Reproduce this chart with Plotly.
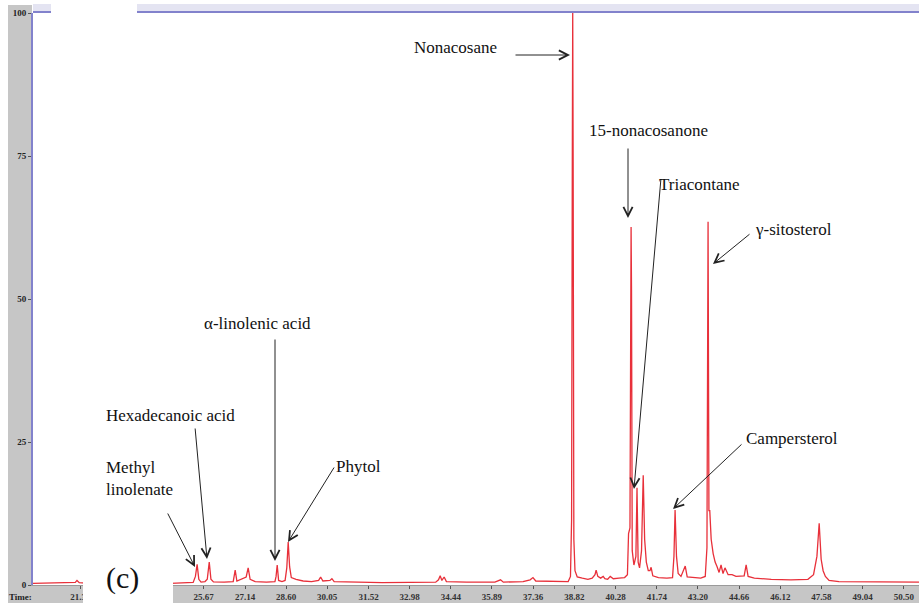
import plotly.graph_objects as go

# ---------------- data ----------------
times = [19.62, 20.00, 20.50, 21.00, 21.12, 21.18, 21.26, 21.60, 22.20, 23.00,
         23.80, 24.50, 25.00, 25.30, 25.38, 25.44, 25.50, 25.58, 25.72, 25.80,
         25.87, 25.93, 26.02, 26.40, 26.72, 26.79, 26.85, 26.95, 27.05, 27.18,
         27.25, 27.32, 27.50, 27.90, 28.20, 28.24, 28.28, 28.33, 28.45, 28.56,
         28.62, 28.67, 28.72, 28.78, 28.95, 29.20, 29.50, 29.75, 29.82, 29.90,
         30.15, 30.22, 30.30, 31.00, 32.00, 33.00, 33.90, 34.00, 34.06, 34.12,
         34.20, 34.28, 35.00, 36.00, 36.20, 36.30, 37.00, 37.25, 37.35, 37.45,
         38.00, 38.60, 38.68, 38.72, 38.745, 38.76, 38.775, 38.80, 38.84, 38.92,
         39.10, 39.30, 39.45, 39.55, 39.59, 39.65, 39.75, 39.84, 39.90, 40.00,
         40.09, 40.20, 40.40, 40.60, 40.70, 40.74, 40.79, 40.815, 40.83, 40.845,
         40.87, 40.93, 41.00, 41.04, 41.08, 41.13, 41.20, 41.26, 41.31, 41.37,
         41.44, 41.50, 41.54, 41.60, 41.80, 42.10, 42.30, 42.35, 42.39, 42.44,
         42.50, 42.60, 42.75, 42.82, 43.00, 43.30, 43.46, 43.52, 43.56, 43.59,
         43.62, 43.67, 43.74, 43.81, 43.88, 43.95, 44.02, 44.09, 44.16, 44.27,
         44.41, 44.55, 44.84, 44.91, 44.98, 45.20, 45.80, 46.50, 47.10, 47.30,
         47.42, 47.50, 47.57, 47.64, 47.72, 47.85, 48.20, 49.00, 50.00, 51.04]

intensity = [0.30, 0.35, 0.30, 0.40, 0.45, 0.80, 0.40, 0.30, 0.35, 0.30,
             0.35, 0.30, 0.40, 0.45, 1.50, 3.60, 1.00, 0.50, 0.60, 1.00,
             4.00, 1.00, 0.55, 0.50, 0.60, 2.60, 0.70, 0.90, 1.20, 1.40,
             3.00, 1.00, 0.60, 0.50, 0.60, 1.50, 3.50, 0.80, 0.60, 0.80,
             3.00, 7.50, 3.20, 1.30, 1.00, 0.70, 0.60, 0.80, 1.40, 0.70,
             0.80, 1.10, 0.60, 0.50, 0.40, 0.45, 0.50, 0.90, 1.60, 0.80,
             1.40, 0.60, 0.50, 0.50, 0.90, 0.50, 0.60, 0.90, 1.30, 0.70,
             0.60, 0.60, 1.50, 11.4, 74.0, 100.0, 74.0, 8.00, 2.50, 1.40,
             1.20, 1.00, 1.20, 1.80, 2.60, 1.50, 1.20, 1.50, 1.10, 1.00,
             1.50, 1.10, 1.20, 1.30, 1.80, 9.00, 10.0, 51.6, 62.6, 51.6,
             6.00, 3.50, 5.00, 17.0, 4.00, 3.00, 6.00, 19.2, 8.00, 4.00,
             2.50, 2.50, 3.10, 1.60, 1.30, 1.20, 1.30, 5.00, 13.1, 5.00,
             2.00, 1.50, 3.30, 1.40, 1.30, 1.20, 1.50, 6.50, 63.5, 13.0,
             13.0, 8.00, 5.50, 4.00, 3.20, 2.20, 3.50, 2.00, 3.00, 1.80,
             1.80, 1.50, 1.60, 3.50, 1.50, 1.20, 1.00, 0.90, 1.00, 1.80,
             5.00, 10.8, 4.50, 2.50, 1.50, 0.80, 0.60, 0.60, 0.50, 0.50]

# tick labels visible in the reference (22.76 / 24.21 are hidden by the white patch)
x_tick_vals = [21.30, 25.67, 27.14, 28.60, 30.05, 31.52, 32.98,
               34.44, 35.89, 37.36, 38.82, 40.28, 41.74, 43.20, 44.66, 46.12,
               47.58, 49.04, 50.50]
x_tick_text = ["21.30", "25.67", "27.14", "28.60", "30.05",
               "31.52", "32.98", "34.44", "35.89", "37.36", "38.82", "40.28",
               "41.74", "43.20", "44.66", "46.12", "47.58", "49.04", "50.50"]
y_tick_vals = [0, 25, 50, 75, 100]
y_tick_text = ["0", "25", "50", "75", "100"]

compound_labels = ["Nonacosane", "15-nonacosanone", "Triacontane", "γ-sitosterol",
                   "Campersterol", "Phytol", "α-linolenic acid",
                   "Hexadecanoic acid", "Methyl<br>linolenate"]

# ---------------- layout helpers (pixel -> paper) ----------------
W, H = 919, 606
L, R, T, B = 33, 919, 13, 585


def px(x):
    return (x - L) / (R - L)


def py(y):
    return (B - y) / (B - T)


# label centre (px), arrow tail (px), arrow head (px), text alignment
label_layout = [
    ((455, 47), (514, 55), (570, 55), "center"),
    ((648, 131), (628, 147), (628, 218), "center"),
    ((699, 184), (661, 178), (634, 489), "center"),
    ((793, 229), (751, 233), (713, 264), "center"),
    ((792, 438), (743, 443), (673, 509), "center"),
    ((358, 466), (335, 466), (288, 542), "center"),
    ((257, 323), (275, 338), (275, 561), "center"),
    ((170, 415), (195, 427), (207, 559), "center"),
    ((104, 478), (167, 512), (195, 567), "left"),
]

SERIF = "Liberation Serif, Times New Roman, serif"

fig = go.Figure()
fig.add_trace(go.Scatter(
    x=times, y=intensity, mode="lines",
    line=dict(color="#e8303a", width=1.3),
    hoverinfo="skip", showlegend=False,
))

shapes = [
    # left grey strip
    dict(type="rect", xref="paper", yref="paper", x0=px(8), x1=px(32),
         y0=py(603), y1=py(5), fillcolor="#c6c6c6", line=dict(width=0), layer="below"),
    # bottom grey band
    dict(type="rect", xref="paper", yref="paper", x0=px(8), x1=px(919),
         y0=py(603), y1=py(586), fillcolor="#c6c6c6", line=dict(width=0), layer="below"),
    # top lavender band
    dict(type="rect", xref="paper", yref="paper", x0=px(33), x1=px(919),
         y0=py(13), y1=py(4), fillcolor="#e4e4f2", line=dict(width=0), layer="below"),
    # top frame line
    dict(type="line", xref="paper", yref="paper", x0=px(33), x1=px(919),
         y0=py(12), y1=py(12), line=dict(color="#8282cc", width=2), layer="below"),
    # white patch at top-left
    dict(type="rect", xref="paper", yref="paper", x0=px(51), x1=px(137),
         y0=py(16), y1=py(0), fillcolor="white", line=dict(width=0), layer="above"),
    # white patch behind (c)
    dict(type="rect", xref="paper", yref="paper", x0=px(83), x1=px(173),
         y0=py(606), y1=py(548), fillcolor="white", line=dict(width=0), layer="above"),
]

annotations = []
for name, (tc, tail, head, align) in zip(compound_labels, label_layout):
    annotations.append(dict(
        xref="paper", yref="paper", x=px(tc[0]), y=py(tc[1]),
        text=name, showarrow=False, align=align,
        xanchor="left" if align == "left" else "center", yanchor="middle",
        font=dict(family=SERIF, size=17, color="#111"),
    ))
    annotations.append(dict(
        xref="paper", yref="paper", x=px(head[0]), y=py(head[1]),
        ax=tail[0] - head[0], ay=tail[1] - head[1],
        text="", showarrow=True, arrowhead=5, arrowsize=1.8,
        arrowwidth=1, arrowcolor="#222", standoff=0, startstandoff=0,
    ))

annotations.append(dict(
    xref="paper", yref="paper", x=px(122), y=py(578), text="(c)",
    showarrow=False, xanchor="center", yanchor="middle",
    font=dict(family=SERIF, size=30, color="#111"),
))
annotations.append(dict(
    xref="paper", yref="paper", x=px(20), y=py(597), text="Time:",
    showarrow=False, xanchor="center", yanchor="middle",
    font=dict(family=SERIF, size=9, color="#222", weight="bold"),
))

fig.update_layout(
    width=W, height=H,
    margin=dict(l=L, r=W - R, t=T, b=H - B, pad=0),
    paper_bgcolor="white", plot_bgcolor="white",
    shapes=shapes, annotations=annotations,
    showlegend=False,
    xaxis=dict(
        range=[19.62, 51.04], tickvals=x_tick_vals, ticktext=x_tick_text,
        showgrid=False, zeroline=False, showline=True, linecolor="#9a9a9a",
        linewidth=1, ticks="outside", ticklen=3, tickcolor="#555",
        tickfont=dict(family=SERIF, size=9, color="#333", weight="bold"),
        fixedrange=True,
    ),
    yaxis=dict(
        range=[0, 100], tickvals=y_tick_vals, ticktext=y_tick_text,
        showgrid=False, zeroline=False, showline=True, linecolor="#8282cc",
        linewidth=2, ticks="outside", ticklen=3, tickcolor="#555",
        tickfont=dict(family=SERIF, size=9, color="#222", weight="bold"),
        fixedrange=True,
    ),
)

fig.write_html("out.html", config={"displayModeBar": False})
